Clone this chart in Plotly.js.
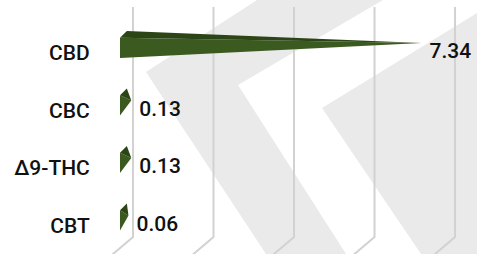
<!DOCTYPE html>
<html>
<head>
<meta charset="utf-8">
<script src="https://cdn.plot.ly/plotly-3.0.1.min.js"></script>
<style>html,body{margin:0;padding:0;background:#fff;}#chart{width:477px;height:254px;}</style>
</head>
<body>
<div id="chart"></div>
<script>
// ---- data ----
const categories = ['CBD', 'CBC', 'Δ9-THC', 'CBT'];
const values = [7.34, 0.13, 0.13, 0.06];
const valueLabels = ['7.34', '0.13', '0.13', '0.06'];
const gridValues = [0, 2, 4, 6, 8];

// ---- style constants (pyramid geometry, in axis units) ----
const DEPTH_X = 0.17, APEX_DX = 0.15;
const FRONT_BOTTOM = 0.23, FRONT_TOP = -0.12, BACK_TOP = -0.24, APEX_DY = -0.03;
const LABEL_DY = 0.14;
const frontColor = '#3b5a20';
const topColor = '#2c4516';
const FONT = 'Roboto, "Open Sans", Arial, sans-serif';

const traces = [];
values.forEach(function (v, i) {
  const ax = v + APEX_DX, ay = i + APEX_DY;
  // front face
  traces.push({
    type: 'scatter', mode: 'lines', fill: 'toself',
    x: [0, 0, ax, 0], y: [i + FRONT_BOTTOM, i + FRONT_TOP, ay, i + FRONT_BOTTOM],
    fillcolor: frontColor, line: {width: 0, color: frontColor}, hoverinfo: 'skip'
  });
  // top face
  traces.push({
    type: 'scatter', mode: 'lines', fill: 'toself',
    x: [0, DEPTH_X, ax, 0], y: [i + FRONT_TOP, i + BACK_TOP, ay, i + FRONT_TOP],
    fillcolor: topColor, line: {width: 0, color: topColor}, hoverinfo: 'skip'
  });
});
// value labels
traces.push({
  type: 'scatter', mode: 'text',
  x: values.map(function (v) { return v + APEX_DX + 0.2; }),
  y: values.map(function (v, i) { return i + LABEL_DY; }),
  text: valueLabels, textposition: 'middle right',
  textfont: {family: FONT, size: 21, weight: 500, color: '#111111'},
  cliponaxis: false, hoverinfo: 'skip'
});

// decorative watermark (pixel offsets from plot top-left)
const shapes = [
  {type: 'path', xref: 'paper', yref: 'paper', xsizemode: 'pixel', ysizemode: 'pixel', xanchor: 0, yanchor: 1,
   path: 'M157,16 L283,16 L138,-69 L246,-238 L166,-238 L46,-56 Z', fillcolor: '#eaeaea', line: {width: 0}, layer: 'below'},
  {type: 'path', xref: 'paper', yref: 'paper', xsizemode: 'pixel', ysizemode: 'pixel', xanchor: 0, yanchor: 1,
   path: 'M222,-92 L398,16 L500,16 L500,-238 L321,-238 Z', fillcolor: '#eaeaea', line: {width: 0}, layer: 'below'}
];
// 3D gridlines (back wall + floor bend)
gridValues.forEach(function (g) {
  shapes.push({
    type: 'path', xref: 'x', yref: 'paper', xsizemode: 'pixel', ysizemode: 'pixel', xanchor: g, yanchor: 1,
    path: 'M13,9 L13,-221 L-7,-238 L-14,-244', line: {color: '#d2d2d2', width: 2}, layer: 'below'
  });
});

const layout = {
  width: 477, height: 254,
  margin: {l: 100, r: 0, t: 16, b: 8},
  paper_bgcolor: '#ffffff', plot_bgcolor: 'rgba(0,0,0,0)',
  showlegend: false, hovermode: false,
  xaxis: {range: [-0.497, 8.869], showgrid: false, zeroline: false, showline: false, showticklabels: false, ticks: ''},
  yaxis: {range: [3.5, -0.5], showgrid: false, zeroline: false, showline: false,
          tickmode: 'array', tickvals: categories.map(function (c, i) { return i + LABEL_DY; }), ticktext: categories,
          ticks: 'outside', ticklen: 5, tickcolor: 'rgba(0,0,0,0)',
          tickfont: {family: FONT, size: 21, weight: 500, color: '#111111'}},
  shapes: shapes
};

Plotly.newPlot('chart', traces, layout, {staticPlot: true, displayModeBar: false});
</script>
</body>
</html>
